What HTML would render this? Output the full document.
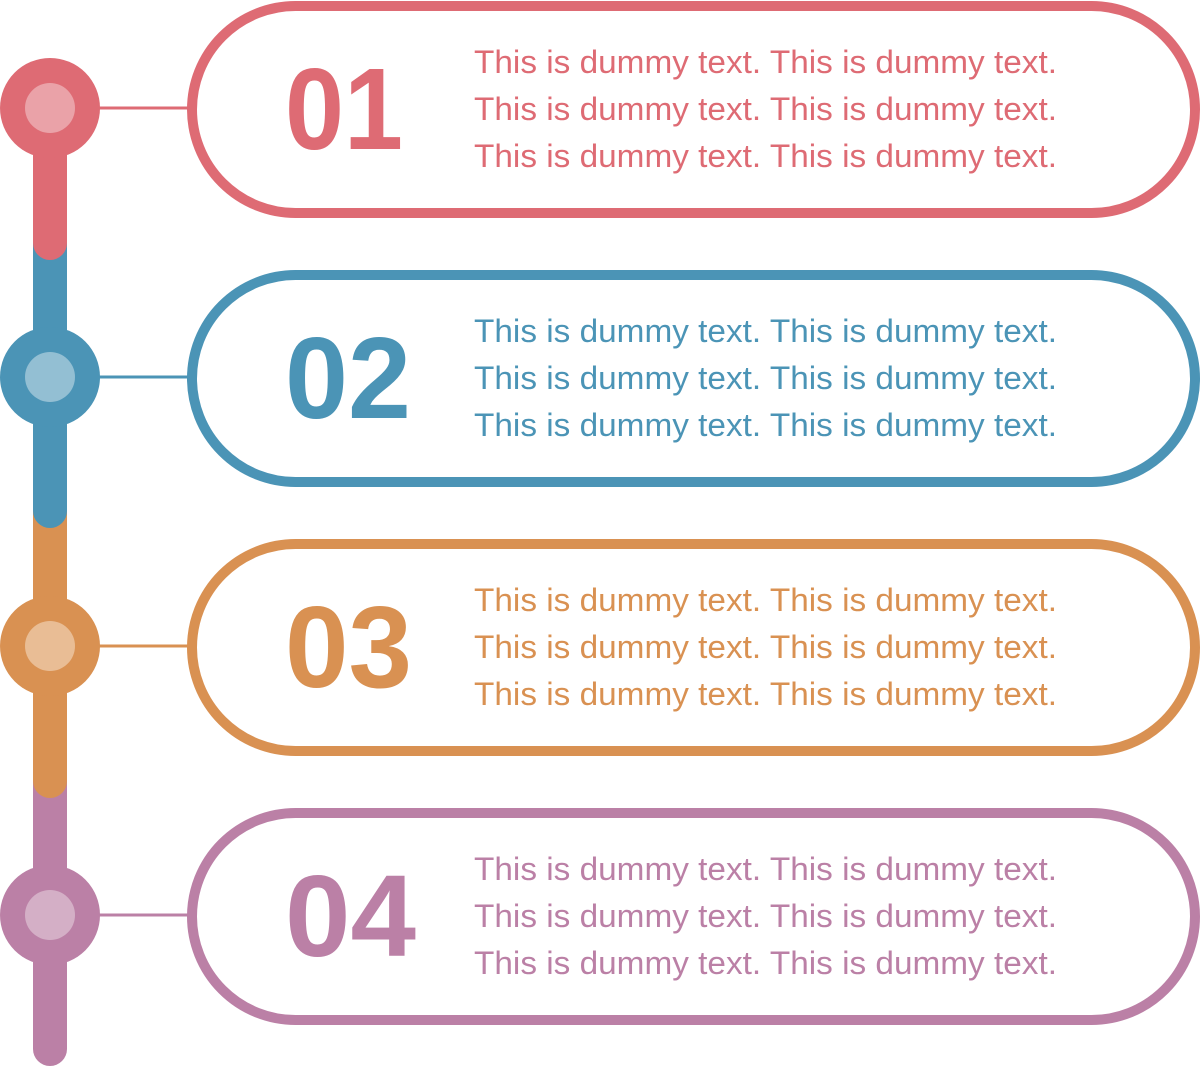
<!DOCTYPE html>
<html><head><style>html,body{margin:0;padding:0;background:#fff}svg{display:block}</style></head>
<body>
<svg width="1200" height="1067" viewBox="0 0 1200 1067" xmlns="http://www.w3.org/2000/svg">
<g>
<path d="M33 780 H67 V1049 A17 17 0 0 1 33 1049 Z" fill="#bb80a6"/>
<path d="M33 510 H67 V781 A17 17 0 0 1 33 781 Z" fill="#d99152"/>
<path d="M33 240 H67 V511 A17 17 0 0 1 33 511 Z" fill="#4b94b6"/>
<path d="M33 108 H67 V243 A17 17 0 0 1 33 243 Z" fill="#de6b74"/>
</g>
<g font-family="Liberation Sans, sans-serif">
<g>
<line x1="95" y1="108" x2="190" y2="108" stroke="#de6b74" stroke-width="3"/>
<circle cx="50" cy="108" r="50" fill="#de6b74"/><circle cx="50" cy="108" r="25" fill="#eaa2a8"/>
<rect x="192" y="6" width="1003" height="207" rx="103.5" fill="none" stroke="#de6b74" stroke-width="10"/>
<text x="285" y="149" font-size="116" font-weight="bold" fill="#de6b74" textLength="118" lengthAdjust="spacingAndGlyphs">01</text>
<g font-size="32" fill="#de6b74"><text x="474" y="73" textLength="583" lengthAdjust="spacingAndGlyphs">This is dummy text. This is dummy text.</text><text x="474" y="120" textLength="583" lengthAdjust="spacingAndGlyphs">This is dummy text. This is dummy text.</text><text x="474" y="167" textLength="583" lengthAdjust="spacingAndGlyphs">This is dummy text. This is dummy text.</text></g>
</g>
<g transform="translate(0,269)">
<line x1="95" y1="108" x2="190" y2="108" stroke="#4b94b6" stroke-width="3"/>
<circle cx="50" cy="108" r="50" fill="#4b94b6"/><circle cx="50" cy="108" r="25" fill="#93bfd3"/>
<rect x="192" y="6" width="1003" height="207" rx="103.5" fill="none" stroke="#4b94b6" stroke-width="10"/>
<text x="285" y="149" font-size="116" font-weight="bold" fill="#4b94b6" textLength="126" lengthAdjust="spacingAndGlyphs">02</text>
<g font-size="32" fill="#4b94b6"><text x="474" y="73" textLength="583" lengthAdjust="spacingAndGlyphs">This is dummy text. This is dummy text.</text><text x="474" y="120" textLength="583" lengthAdjust="spacingAndGlyphs">This is dummy text. This is dummy text.</text><text x="474" y="167" textLength="583" lengthAdjust="spacingAndGlyphs">This is dummy text. This is dummy text.</text></g>
</g>
<g transform="translate(0,538)">
<line x1="95" y1="108" x2="190" y2="108" stroke="#d99152" stroke-width="3"/>
<circle cx="50" cy="108" r="50" fill="#d99152"/><circle cx="50" cy="108" r="25" fill="#e9bd95"/>
<rect x="192" y="6" width="1003" height="207" rx="103.5" fill="none" stroke="#d99152" stroke-width="10"/>
<text x="285" y="149" font-size="116" font-weight="bold" fill="#d99152" textLength="127" lengthAdjust="spacingAndGlyphs">03</text>
<g font-size="32" fill="#d99152"><text x="474" y="73" textLength="583" lengthAdjust="spacingAndGlyphs">This is dummy text. This is dummy text.</text><text x="474" y="120" textLength="583" lengthAdjust="spacingAndGlyphs">This is dummy text. This is dummy text.</text><text x="474" y="167" textLength="583" lengthAdjust="spacingAndGlyphs">This is dummy text. This is dummy text.</text></g>
</g>
<g transform="translate(0,807)">
<line x1="95" y1="108" x2="190" y2="108" stroke="#bb80a6" stroke-width="3"/>
<circle cx="50" cy="108" r="50" fill="#bb80a6"/><circle cx="50" cy="108" r="25" fill="#d4afc6"/>
<rect x="192" y="6" width="1003" height="207" rx="103.5" fill="none" stroke="#bb80a6" stroke-width="10"/>
<text x="285" y="149" font-size="116" font-weight="bold" fill="#bb80a6" textLength="131" lengthAdjust="spacingAndGlyphs">04</text>
<g font-size="32" fill="#bb80a6"><text x="474" y="73" textLength="583" lengthAdjust="spacingAndGlyphs">This is dummy text. This is dummy text.</text><text x="474" y="120" textLength="583" lengthAdjust="spacingAndGlyphs">This is dummy text. This is dummy text.</text><text x="474" y="167" textLength="583" lengthAdjust="spacingAndGlyphs">This is dummy text. This is dummy text.</text></g>
</g>
</g>
</svg>
</body></html>
